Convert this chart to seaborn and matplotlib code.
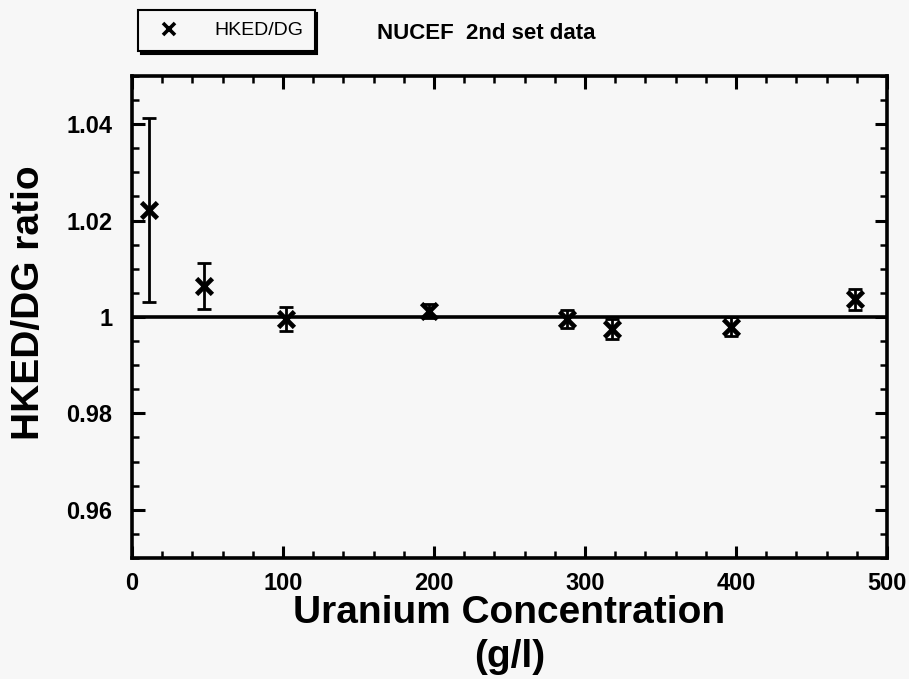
import matplotlib
matplotlib.use('Agg')
import matplotlib.pyplot as plt
import seaborn as sns
from matplotlib.lines import Line2D
from matplotlib.ticker import MultipleLocator, FixedLocator

# values
conc = [11, 48, 102, 197, 288, 318, 397, 479]
ratio = [1.0222, 1.0065, 0.9996, 1.0012, 0.9996, 0.9975, 0.9980, 1.0037]
err = [0.0190, 0.0048, 0.0025, 0.0015, 0.0018, 0.0020, 0.0020, 0.0022]
x_ticks = [0, 100, 200, 300, 400, 500]
y_ticks = [0.96, 0.98, 1.0, 1.02, 1.04]

sns.set_theme(style="ticks")
plt.rcParams['font.family'] = ['Liberation Sans', 'DejaVu Sans']
plt.rcParams['text.color'] = 'black'
plt.rcParams['axes.labelcolor'] = 'black'

fig = plt.figure(figsize=(9.09, 6.79), dpi=100)
fig.patch.set_facecolor("#f7f7f7")
ax = fig.add_axes([0.1452, 0.1782, 0.8306, 0.7099])
ax.set_facecolor("#f7f7f7")

ax.axhline(1.0, color="black", lw=2.6, zorder=1)
ax.errorbar(conc, ratio, yerr=err, fmt="none", ecolor="black",
            elinewidth=2, capsize=5, capthick=2, zorder=2)
sns.scatterplot(x=conc, y=ratio, marker="x", s=130, color="black",
                linewidth=3.4, ax=ax, zorder=3)

ax.set_xlim(0, 500)
ax.set_ylim(0.95, 1.05)
ax.xaxis.set_major_locator(FixedLocator(x_ticks))
ax.xaxis.set_minor_locator(MultipleLocator(20))
ax.yaxis.set_major_locator(FixedLocator(y_ticks))
ax.yaxis.set_minor_locator(MultipleLocator(0.005))
ax.set_yticklabels([f"{v:g}" for v in y_ticks])

ax.tick_params(which="both", direction="in", top=True, right=True, colors="black")
ax.tick_params(which="major", length=9, width=2.2)
ax.tick_params(which="minor", length=5, width=1.8)
ax.tick_params(axis="y", which="major", pad=14)
ax.tick_params(axis="x", which="major", pad=10)
for lab in ax.get_xticklabels() + ax.get_yticklabels():
    lab.set_fontsize(17)
    lab.set_fontweight("bold")
for sp in ax.spines.values():
    sp.set_linewidth(2.6)
    sp.set_color("black")

ax.set_ylabel("HKED/DG ratio", fontsize=28, fontweight="bold")
ax.yaxis.set_label_coords(-0.112, 0.53)
ax.set_xlabel("Uranium Concentration\n(g/l)", fontsize=28, fontweight="bold",
              linespacing=1.3, va="top")
ax.xaxis.set_label_coords(0.5, -0.076)

handle = Line2D([], [], ls="none", marker="x", color="black",
                markersize=8, markeredgewidth=2.6)
leg = fig.legend([handle], ["HKED/DG"], loc="upper left",
                 bbox_to_anchor=(0.152, 0.985), fancybox=False,
                 shadow={"facecolor": "black", "edgecolor": "black", "alpha": 1},
                 frameon=True, fontsize=14, borderpad=0.6,
                 handletextpad=1.3, handlelength=2.0, borderaxespad=0)
leg.get_frame().set_edgecolor("black")
leg.get_frame().set_linewidth(1.5)
leg.get_frame().set_facecolor("#f7f7f7")
leg.get_frame().set_alpha(1)

fig.text(0.415, 0.951, "NUCEF  2nd set data", fontsize=16,
         fontweight="bold", va="center", ha="left")

fig.savefig("out.png", dpi=100, facecolor=fig.get_facecolor())
